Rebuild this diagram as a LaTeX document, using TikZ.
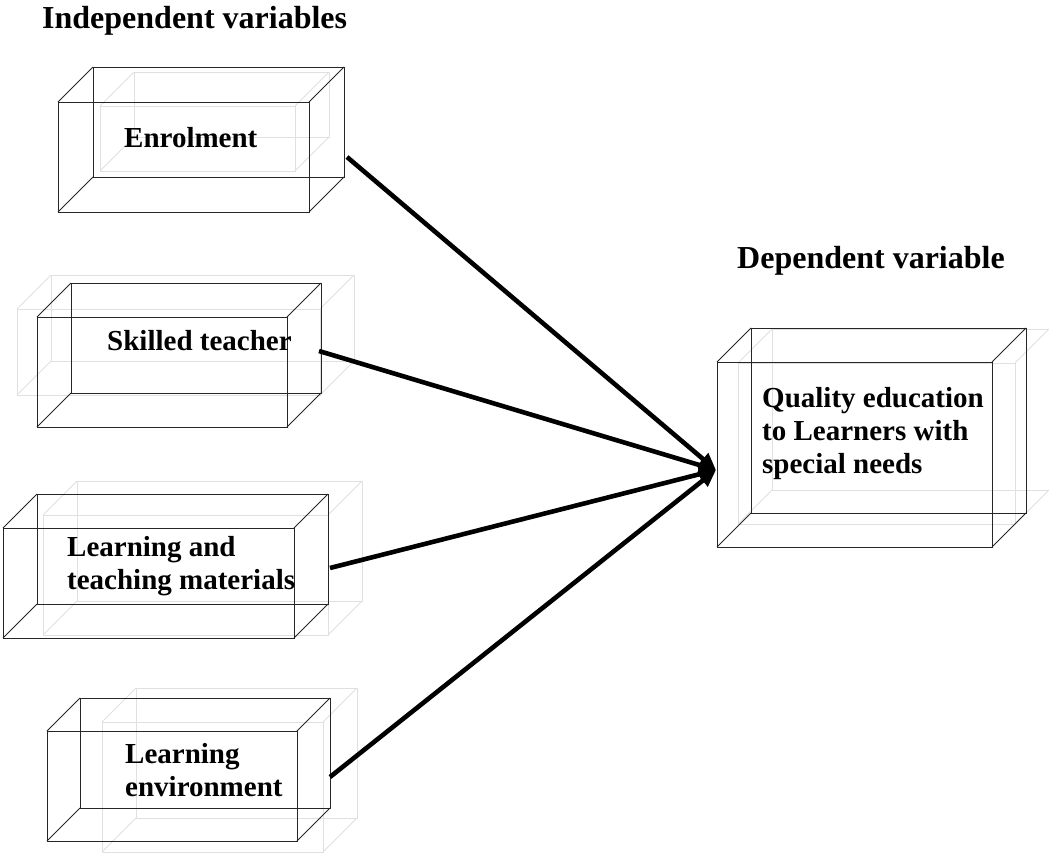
\documentclass[tikz,border=0pt]{standalone}
\usepackage{fontspec}
\setmainfont{Liberation Serif}
\usetikzlibrary{arrows.meta}

% wire-frame cuboid: front face at (x,y), width w, height h, depth d
\newcommand\wirebox[6]{%
  \draw[#6] (#1,#2) rectangle ++(#3,#4);
  \draw[#6] (#1+#5,#2-#5) rectangle ++(#3,#4);
  \draw[#6] (#1,#2) -- ++(#5,-#5);
  \draw[#6] (#1+#3,#2) -- ++(#5,-#5);
  \draw[#6] (#1,#2+#4) -- ++(#5,-#5);
  \draw[#6] (#1+#3,#2+#4) -- ++(#5,-#5);
}

\tikzset{
  edge/.style={draw=black!85, line width=1pt},
  ghost/.style={draw=black!12, line width=0.9pt},
  head/.style={font=\fontsize{32}{37}\selectfont\bfseries, inner sep=0pt, anchor=base west},
  label/.style={font=\fontsize{29}{33}\selectfont\bfseries, inner sep=0pt, anchor=base west},
  link/.style={line width=4.6pt, -{Triangle[length=17pt,width=15pt]}}
}

\begin{document}
\begin{tikzpicture}[x=1pt,y=-1pt]
\useasboundingbox (0,0) rectangle (1049,854);

% faint shadow boxes
\wirebox{100}{106}{195}{65}{34}{ghost}
\wirebox{17}{309}{303}{86}{34}{ghost}
\wirebox{43}{515}{285}{120}{34}{ghost}
\wirebox{102}{722}{221}{130}{34}{ghost}
\wirebox{738}{363}{277}{161}{34}{ghost}

% main boxes
\wirebox{58}{102}{251}{110}{35}{edge}
\wirebox{37}{317}{250}{110}{34}{edge}
\wirebox{3}{528}{291}{110}{34}{edge}
\wirebox{47}{731}{250}{110}{33}{edge}
\wirebox{717}{362}{275}{185}{34}{edge}

% headings
\node[head] (hi) at (42,28) {Independent variables};
\node[head] (hd) at (737,268) {Dependent variable};

% box texts
\node[label] (t1) at (124,147) {Enrolment};
\node[label] (t2) at (107,350) {Skilled teacher};
\node[label] (t3) at (67,556) {\begin{tabular}[t]{@{}l@{}}Learning and\\teaching materials\end{tabular}};
\node[label] (t4) at (125,763) {\begin{tabular}[t]{@{}l@{}}Learning\\environment\end{tabular}};
\node[label] (t5) at (762,407) {\begin{tabular}[t]{@{}l@{}}Quality education\\to Learners with\\special needs\end{tabular}};

% connector end points
\coordinate (s1) at (347,157);
\coordinate (s2) at (319,351);
\coordinate (s3) at (330,568);
\coordinate (s4) at (330,777);
\coordinate (q) at (716,470);

\draw[link] (s1) -- (q);
\draw[link] (s2) -- (q);
\draw[link] (s3) -- (q);
\draw[link] (s4) -- (q);
\end{tikzpicture}
\end{document}
